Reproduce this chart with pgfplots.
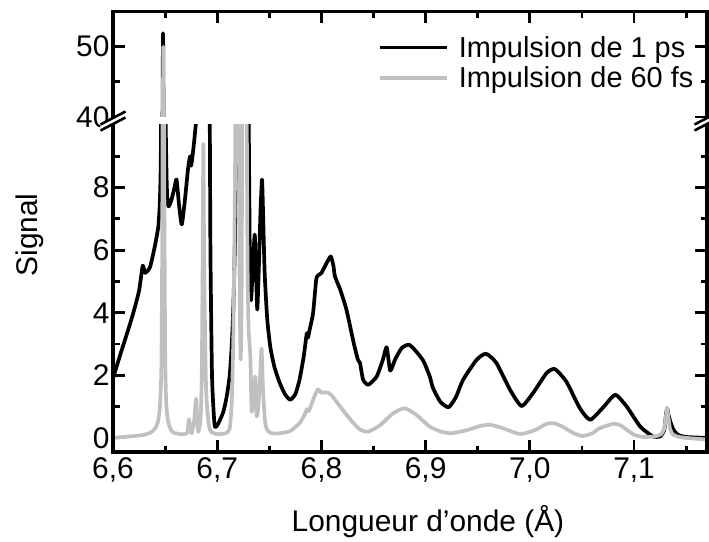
\documentclass[border=0pt]{standalone}
\usepackage{fontspec}
\setmainfont{Liberation Sans}
\usepackage{pgfplots}
\usepackage{pgfplotstable}
\pgfplotsset{compat=1.18}
\definecolor{lgray}{RGB}{192,192,192}

\pgfplotstableread{
x y
6.6000 1.90
6.6050 2.45
6.6100 2.98
6.6150 3.50
6.6195 4.00
6.6250 4.70
6.6285 5.50
6.6305 5.28
6.6320 5.30
6.6355 5.45
6.6400 6.10
6.6435 6.76
6.6450 7.60
6.6460 9.50
6.6470 20.0
6.6480 51.9
6.6490 25.0
6.6500 12.0
6.6515 8.20
6.6530 7.40
6.6560 7.60
6.6590 8.00
6.6610 8.26
6.6635 7.40
6.6660 6.82
6.6690 7.60
6.6720 8.60
6.6740 9.00
6.6750 8.70
6.6770 9.20
6.6790 9.86
6.6810 10.8
6.6840 15.0
6.6900 15.0
6.6925 12.0
6.6935 6.00
6.6950 2.00
6.6970 0.60
6.6980 0.35
6.7000 0.40
6.7030 0.60
6.7060 0.85
6.7090 1.30
6.7120 2.00
6.7140 3.00
6.7155 4.20
6.7170 6.30
6.7185 10.5
6.7200 14.0
6.7215 11.0
6.7225 5.80
6.7235 11.0
6.7250 15.0
6.7290 15.0
6.7305 9.00
6.7315 5.00
6.7325 4.40
6.7340 5.30
6.7360 6.50
6.7375 5.00
6.7385 4.10
6.7400 5.50
6.7415 7.20
6.7430 8.26
6.7440 7.20
6.7455 5.30
6.7480 3.80
6.7510 2.90
6.7550 2.25
6.7600 1.76
6.7650 1.40
6.7700 1.22
6.7750 1.40
6.7790 1.86
6.7830 2.60
6.7860 3.35
6.7870 3.20
6.7890 3.50
6.7920 3.99
6.7950 5.06
6.7970 5.20
6.8000 5.27
6.8050 5.59
6.8090 5.80
6.8115 5.50
6.8130 5.16
6.8180 4.74
6.8240 4.10
6.8310 3.03
6.8350 2.50
6.8370 2.40
6.8400 1.86
6.8450 1.70
6.8530 1.96
6.8590 2.50
6.8626 2.90
6.8660 2.15
6.8706 2.50
6.8770 2.87
6.8840 2.98
6.8910 2.76
6.8980 2.45
6.9040 1.96
6.9070 1.60
6.9140 1.16
6.9220 0.98
6.9290 1.30
6.9360 1.86
6.9490 2.50
6.9580 2.69
6.9680 2.39
6.9810 1.54
6.9920 1.02
7.0030 1.43
7.0160 2.07
7.0240 2.20
7.0350 1.80
7.0480 0.95
7.0580 0.58
7.0710 1.00
7.0820 1.38
7.0930 1.00
7.1060 0.36
7.1180 0.05
7.1250 0.05
7.1290 0.25
7.1305 0.70
7.1317 0.95
7.1330 0.75
7.1350 0.50
7.1380 0.25
7.1420 0.10
7.1500 0.03
7.1700 0.00
}\blackdata

\pgfplotstableread{
x y
6.6000 0.00
6.6100 0.03
6.6200 0.06
6.6300 0.10
6.6360 0.17
6.6400 0.28
6.6430 0.50
6.6450 1.00
6.6465 2.50
6.6475 10.0
6.6482 50.0
6.6490 12.0
6.6500 3.00
6.6510 1.20
6.6525 0.60
6.6550 0.30
6.6580 0.17
6.6650 0.12
6.6710 0.15
6.6722 0.40
6.6730 0.60
6.6740 0.30
6.6755 0.15
6.6780 0.60
6.6797 1.25
6.6810 0.40
6.6820 0.20
6.6840 0.60
6.6852 2.00
6.6860 5.50
6.6867 9.40
6.6875 5.50
6.6890 2.00
6.6900 1.10
6.6920 0.40
6.6940 0.20
6.7000 0.12
6.7080 0.15
6.7120 0.30
6.7140 1.20
6.7155 3.30
6.7170 8.00
6.7185 15.0
6.7205 12.0
6.7215 5.00
6.7225 2.50
6.7235 5.00
6.7245 15.0
6.7275 15.0
6.7290 6.00
6.7300 3.60
6.7310 3.00
6.7318 2.60
6.7330 0.85
6.7345 1.20
6.7365 1.96
6.7378 0.70
6.7395 1.00
6.7415 2.20
6.7426 2.85
6.7440 1.50
6.7460 0.50
6.7480 0.25
6.7520 0.15
6.7600 0.15
6.7700 0.22
6.7790 0.47
6.7840 0.75
6.7860 0.92
6.7875 0.85
6.7890 0.95
6.7920 1.22
6.7950 1.45
6.7970 1.55
6.7995 1.45
6.8020 1.45
6.8060 1.45
6.8100 1.35
6.8180 1.00
6.8280 0.58
6.8370 0.27
6.8450 0.20
6.8560 0.40
6.8690 0.79
6.8800 0.95
6.8910 0.74
6.9040 0.36
6.9150 0.20
6.9250 0.15
6.9400 0.25
6.9520 0.38
6.9620 0.42
6.9750 0.30
6.9870 0.15
6.9930 0.13
7.0050 0.25
7.0160 0.45
7.0230 0.47
7.0320 0.35
7.0420 0.15
7.0510 0.06
7.0600 0.15
7.0670 0.31
7.0800 0.45
7.0870 0.40
7.0930 0.26
7.1000 0.10
7.1090 0.03
7.1200 0.05
7.1260 0.12
7.1290 0.30
7.1305 0.65
7.1317 0.97
7.1330 0.65
7.1345 0.30
7.1370 0.12
7.1420 0.04
7.1500 0.00
7.1700 -0.05
}\graydata

\pgfplotsset{
  common/.style={
    scale only axis,
    width=594bp,
    xmin=6.6, xmax=7.17,
    axis line style={draw=none},
    tick align=inside,
    major tick length=12bp,
    minor tick length=6.5bp,
    every tick/.style={line width=2.8bp, black},
    xtick={6.6,6.7,6.8,6.9,7.0,7.1},
    minor xtick={6.65,6.75,6.85,6.95,7.05,7.15},
    ytick pos=both,
    yticklabel pos=left,
    /pgf/number format/assume math mode=true,
    tick label style={font=\fontsize{30}{32}\selectfont},
    xticklabel style={yshift=-2bp, /pgf/number format/.cd, fixed, fixed zerofill, precision=1, use comma},
    clip=true,
  },
  blk/.style={black, line width=3.7bp, line join=round, smooth, tension=0.35},
  gry/.style={lgray, line width=3.7bp, line join=round, smooth, tension=0.35},
}

\begin{document}
\begin{tikzpicture}
\useasboundingbox (-113bp,-90bp) rectangle (596bp,452bp);
\begin{axis}[common, name=lower,
  at={(0bp,0bp)}, anchor=south west,
  height=327bp,
  ymin=-0.45, ymax=10,
  ytick={0,2,4,6,8},
  minor ytick={1,3,5,7,9},
  xtick pos=left,
]
\addplot[blk] table[x=x,y=y] {\blackdata};
\addplot[gry] table[x=x,y=y] {\graydata};
\end{axis}
\begin{axis}[common, name=upper,
  at={(0bp,335bp)}, anchor=south west,
  height=105.5bp,
  ymin=40, ymax=55,
  ytick={40,50},
  minor ytick={45},
  xtick pos=right,
  xticklabels={},
  legend style={draw=none, fill=none, inner sep=0pt, row sep=4bp,
    at={(rel axis cs:0.446,0.787)}, anchor=north west,
    font=\fontsize{29}{31}\selectfont,
    nodes={inner sep=2bp},
    /tikz/every odd column/.append style={column sep=8bp}},
  legend cell align=left,
  legend image code/.code={\draw[#1] (0bp,0bp) -- (67bp,0bp);},
]
\addplot[blk] table[x=x,y=y] {\blackdata};
\addlegendentry{Impulsion de 1 ps}
\addplot[gry] table[x=x,y=y] {\graydata};
\addlegendentry{Impulsion de 60 fs}
\end{axis}
% frame
\draw[line width=3.4bp] (lower.south west) rectangle (upper.north east);
% break marks
\foreach \xx in {0,594}{
  \fill[white] (\xx bp-12.5bp,321.5bp) -- (\xx bp+12.5bp,334.5bp) -- (\xx bp+12.5bp,340.5bp) -- (\xx bp-12.5bp,327.5bp) -- cycle;
  \draw[line width=2.6bp] (\xx bp-12.5bp,321.5bp) -- (\xx bp+12.5bp,334.5bp);
  \draw[line width=2.6bp] (\xx bp-12.5bp,327.5bp) -- (\xx bp+12.5bp,340.5bp);
}
\node[rotate=90, font=\fontsize{30}{32}\selectfont] at (-83bp,217bp) {Signal};
\node[font=\fontsize{30}{32}\selectfont] at (315bp,-70bp) {Longueur d'onde (Å)};
\end{tikzpicture}
\end{document}
